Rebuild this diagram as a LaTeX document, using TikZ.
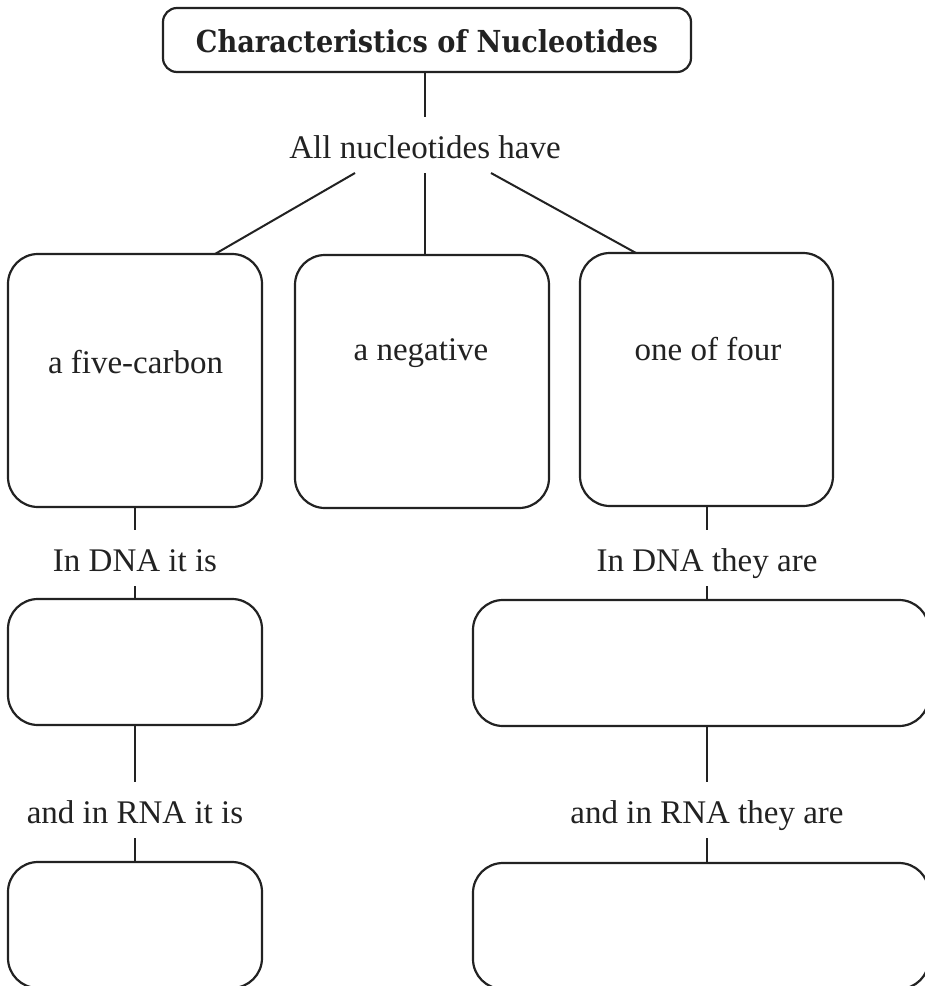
\documentclass[tikz,border=0pt]{standalone}
\usepackage{fontspec}
\setmainfont{Liberation Serif}
\newfontfamily\titlefont{DejaVu Serif}
\usepackage{graphicx}
\definecolor{ink}{HTML}{222222}
\begin{document}
\begin{tikzpicture}[x=1pt,y=-1pt,
  box/.style={draw=ink, line width=2.2pt, rounded corners=30pt, inner sep=0pt},
  lbl/.style={font=\fontsize{33}{36}\selectfont, text=ink, inner xsep=0pt, text height=26pt, text depth=0pt, inner ysep=15pt, anchor=base},
  intext/.style={font=\fontsize{33}{36}\selectfont, text=ink, inner sep=0pt, anchor=base},
  conn/.style={draw=ink, line width=2pt}]
\useasboundingbox (0,0) rectangle (925,986);
\clip (0,0) rectangle (925,986);
\fill[white] (0,0) rectangle (925,986);

% title
\node[draw=ink, line width=2.2pt, rounded corners=14pt, minimum width=528pt, minimum height=64pt, inner sep=0pt] (title) at (427,40) {};
\node[text=ink, inner sep=0pt, anchor=base] (titletext) at (427,52) {\resizebox{462pt}{23pt}{\titlefont\bfseries Characteristics of Nucleotides}};

\node[lbl] (all) at (425,158) {All nucleotides have};

% upper boxes
\node[box, minimum width=254pt, minimum height=253pt] (b1) at (135,380.5) {};
\node[box, minimum width=254pt, minimum height=253pt] (b2) at (422,381.5) {};
\node[box, minimum width=253pt, minimum height=253pt] (b3) at (706.5,379.5) {};
\node[intext] (t1) at (135.5,373) {a five-carbon};
\node[intext] (t2) at (421,360) {a negative};
\node[intext] (t3) at (708,360) {one of four};

% lower boxes
\node[box, minimum width=254pt, minimum height=126pt] (b4) at (135,662) {};
\node[box, minimum width=456pt, minimum height=126pt] (b5) at (701,663) {};
\node[box, minimum width=254pt, minimum height=126pt] (b6) at (135,925) {};
\node[box, minimum width=456pt, minimum height=126pt] (b7) at (701,926) {};

\node[lbl] (dna1) at (135,571) {In DNA it is};
\node[lbl] (rna1) at (135,823) {and in RNA it is};
\node[lbl] (dna2) at (707,571) {In DNA they are};
\node[lbl] (rna2) at (707,823) {and in RNA they are};

\coordinate (aL) at (355,173);
\coordinate (aR) at (491,173);
\coordinate (bL) at (215,254);
\coordinate (bR) at (636,253);

% connectors
\draw[conn] (title.south -| all.south) -- (all.north);
\draw[conn] (aL) -- (bL);
\draw[conn] (all.south) -- (all.south |- b2.north);
\draw[conn] (aR) -- (bR);

\draw[conn] (b1.south) -- (dna1.north);
\draw[conn] (dna1.south) -- (b4.north);
\draw[conn] (b4.south) -- (rna1.north);
\draw[conn] (rna1.south) -- (b6.north);

\draw[conn] (b3.south -| dna2.north) -- (dna2.north);
\draw[conn] (dna2.south) -- (dna2.south |- b5.north);
\draw[conn] (b5.south -| rna2.north) -- (rna2.north);
\draw[conn] (rna2.south) -- (rna2.south |- b7.north);
\end{tikzpicture}
\end{document}
